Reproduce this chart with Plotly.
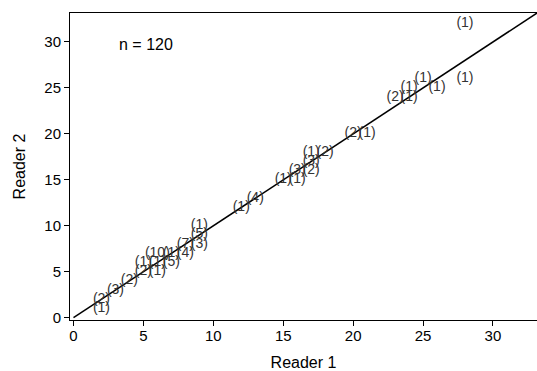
import plotly.graph_objects as go

# Paired readings (Reader 1, Reader 2) and how many cases share each pair
reader1 = [2, 2, 3, 4, 5, 5, 6, 6, 6, 7, 7, 8, 8, 9, 9, 9,
           12, 13, 15, 16, 16, 17, 17, 17, 18,
           20, 21, 23, 24, 24, 25, 26, 28, 28]
reader2 = [1, 2, 3, 4, 5, 6, 5, 6, 7, 7, 6, 8, 7, 8, 9, 10,
           12, 13, 15, 15, 16, 16, 17, 18, 18,
           20, 20, 24, 25, 24, 26, 25, 26, 32]
counts = [1, 2, 3, 2, 2, 1, 1, 1, 10, 1, 5, 7, 4, 3, 5, 1,
          1, 4, 1, 1, 3, 2, 3, 1, 2,
          2, 1, 2, 1, 1, 1, 1, 1, 1]

n_total = 120
axis_range = [-0.25, 33.15]
ticks = [0, 5, 10, 15, 20, 25, 30]
identity = [0, 35]

FONT = "Liberation Sans, Arial, sans-serif"
labels = [f"({c})" for c in counts]

fig = go.Figure()

# Line of equality
fig.add_trace(go.Scatter(
    x=identity, y=identity, mode="lines",
    line=dict(color="black", width=1.5),
    hoverinfo="skip", showlegend=False,
))

# Frequency labels centred on each pair
fig.add_trace(go.Scatter(
    x=reader1, y=reader2, mode="text", text=labels,
    textposition="middle center",
    textfont=dict(family=FONT, size=14, color="#333333"),
    showlegend=False, cliponaxis=False,
))

fig.add_annotation(
    x=3.1, y=29.7, xref="x", yref="y", text=f"n = {n_total}",
    showarrow=False, xanchor="left", yanchor="middle",
    font=dict(family=FONT, size=16, color="black"),
)

axis_common = dict(
    range=axis_range, tickvals=ticks, ticks="outside", ticklen=5,
    tickcolor="black", tickwidth=1, showline=True, linecolor="black",
    linewidth=1, mirror=True, showgrid=False, zeroline=False,
    tickfont=dict(family=FONT, size=15, color="black"),
)

fig.update_xaxes(title=dict(text="Reader 1", standoff=19,
                            font=dict(family=FONT, size=16, color="black")),
                 ticklabelstandoff=-3, automargin=False, **axis_common)
fig.update_yaxes(title=dict(text="Reader 2", standoff=14,
                            font=dict(family=FONT, size=16, color="black")),
                 automargin=False, **axis_common)

fig.update_layout(
    width=537, height=371,
    margin=dict(l=70, r=0, t=13, b=51),
    plot_bgcolor="white", paper_bgcolor="white",
)

fig.write_html("out.html")
